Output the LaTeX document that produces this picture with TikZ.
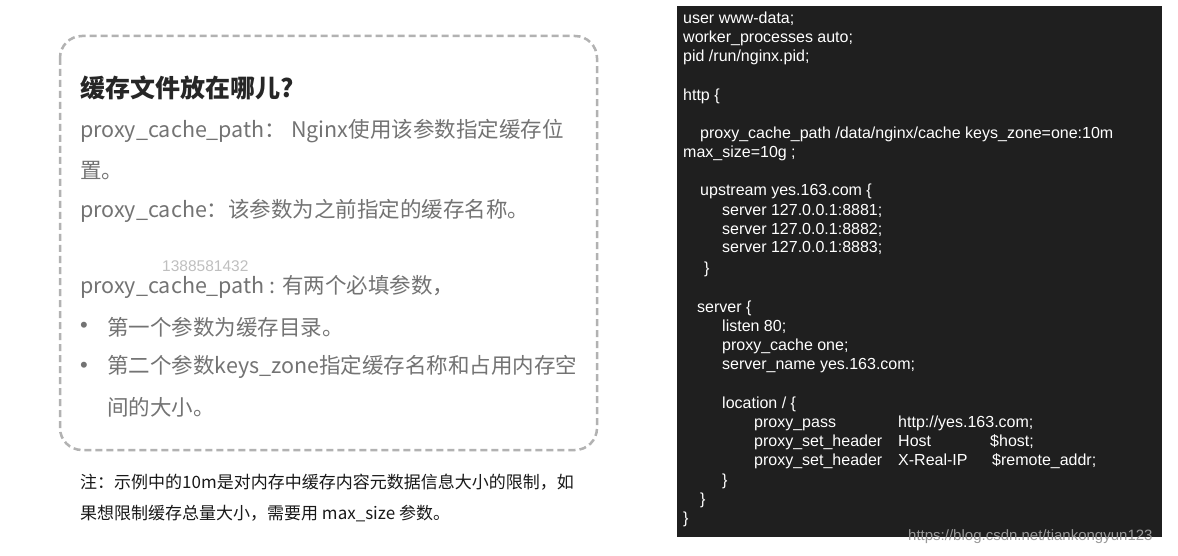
\documentclass[tikz,border=0pt]{standalone}
\usepackage{fontspec}
\setmainfont{Liberation Sans}
\newfontfamily\cjk{Noto Sans CJK SC}
\begin{document}
\begin{tikzpicture}[x=1pt,y=-1pt,
  lt/.style={anchor=west,inner sep=0pt,font=\cjk\fontsize{21.5}{21.5}\selectfont,text=black!55},
  nt/.style={anchor=west,inner sep=0pt,font=\cjk\fontsize{17}{17}\selectfont,text=black!90},
  ct/.style={anchor=base west,inner sep=0pt,font=\fontsize{16}{16}\selectfont,text=white}]
\useasboundingbox (0,0) rectangle (1178,556);
\fill[white] (0,0) rectangle (1178,556);
\draw[black!30,line width=2.5pt,dash pattern=on 7pt off 4pt,rounded corners=22pt] (60,36) rectangle (597,450);
\node[anchor=west,inner sep=0pt,font=\cjk\bfseries\fontsize{25}{25}\selectfont,text=black!85] (t) at (80,88) {缓存文件放在哪儿?};
\node[lt] (l1) at (80,131) {proxy\_cache\_path： Nginx使用该参数指定缓存位};
\node[lt] (l2) at (80,171) {置。};
\node[lt] (l3) at (80,211) {proxy\_cache：该参数为之前指定的缓存名称。};
\node[anchor=west,inner sep=0pt,font=\fontsize{15.5}{15.5}\selectfont,text=black!25] (wm) at (162,266) {1388581432};
\node[lt] (l4) at (80,287) {proxy\_cache\_path : 有两个必填参数，};
\node[anchor=center,inner sep=0pt,text=black!55,font=\fontsize{22}{22}\selectfont] (b1) at (84,327) {•};
\node[lt] (l5) at (107,327) {第一个参数为缓存目录。};
\node[anchor=center,inner sep=0pt,text=black!55,font=\fontsize{22}{22}\selectfont] (b2) at (84,367) {•};
\node[lt] (l6) at (107,367) {第二个参数keys\_zone指定缓存名称和占用内存空};
\node[lt] (l7) at (107,407) {间的大小。};
\node[nt] (n1) at (80,482) {注：示例中的10m是对内存中缓存内容元数据信息大小的限制，如};
\node[nt] (n2) at (80,514) {果想限制缓存总量大小，需要用 max\_size 参数。};
\fill[black!88] (677,6) rectangle (1162,537);
\begin{scope}[yshift=-6pt]
\node[ct] at (683,18) {user www-data;};
\node[ct] at (683,37) {worker\_processes auto;};
\node[ct] at (683,56) {pid /run/nginx.pid;};
\node[ct] at (683,95) {http \{};
\node[ct] at (700,133) {proxy\_cache\_path /data/nginx/cache keys\_zone=one:10m};
\node[ct] at (683,152) {max\_size=10g ;};
\node[ct] at (700,190) {upstream yes.163.com \{};
\node[ct] at (722,209) {server 127.0.0.1:8881;};
\node[ct] at (722,228) {server 127.0.0.1:8882;};
\node[ct] at (722,247) {server 127.0.0.1:8883;};
\node[ct] at (704,267) {\}};
\node[ct] at (697,306) {server \{};
\node[ct] at (722,325) {listen 80;};
\node[ct] at (722,344) {proxy\_cache one;};
\node[ct] at (722,363) {server\_name yes.163.com;};
\node[ct] at (722,402) {location / \{};
\node[ct] at (754,421) {proxy\_pass};
\node[ct] at (898,421) {http://yes.163.com;};
\node[ct] at (754,440) {proxy\_set\_header};
\node[ct] at (898,440) {Host};
\node[ct] at (990,440) {\$host;};
\node[ct] at (754,459) {proxy\_set\_header};
\node[ct] at (898,459) {X-Real-IP};
\node[ct] at (992,459) {\$remote\_addr;};
\node[ct] at (722,479) {\}};
\node[ct] at (700,498) {\}};
\node[ct] at (683,517) {\}};
\end{scope}
\node[anchor=west,inner sep=0pt,font=\fontsize{15}{15}\selectfont,text=black!40] at (908,537) {https://blog.csdn.net/tiankongyun123};
\end{tikzpicture}
\end{document}
